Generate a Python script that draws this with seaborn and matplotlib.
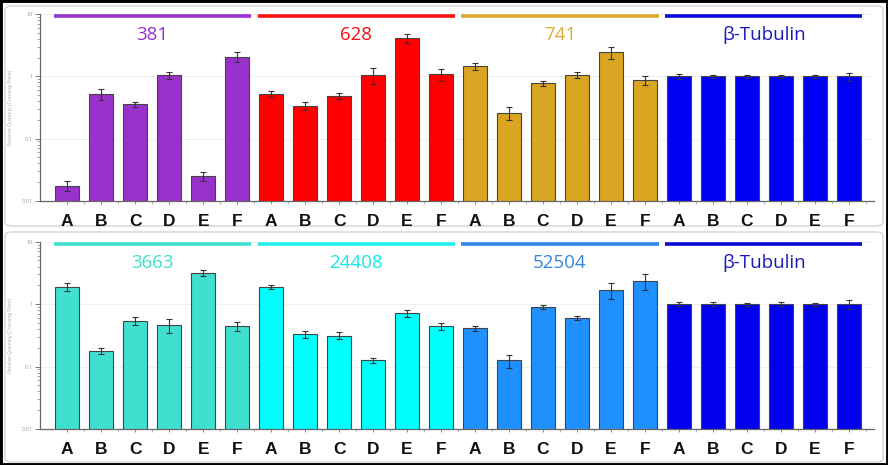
import numpy as np
import pandas as pd
import matplotlib
matplotlib.use("Agg")
import matplotlib.pyplot as plt
from matplotlib.patches import FancyBboxPatch, Rectangle
from matplotlib.ticker import LogLocator, FixedLocator, NullFormatter
import seaborn as sns

sns.set_style("white")
plt.rcParams['font.family'] = ['Open Sans', 'DejaVu Sans']

samples = ["A", "B", "C", "D", "E", "F"]

top_genes = ["381", "628", "741", "β-Tubulin"]
top_values = [
    [0.0175, 0.52, 0.355, 1.04, 0.025, 2.08],
    [0.53, 0.34, 0.49, 1.05, 4.2, 1.08],
    [1.47, 0.26, 0.77, 1.06, 2.43, 0.88],
    [1.0, 1.0, 1.0, 1.0, 1.0, 1.0],
]
top_errors = [
    [0.003, 0.10, 0.03, 0.12, 0.004, 0.35],
    [0.06, 0.05, 0.05, 0.30, 0.70, 0.25],
    [0.20, 0.06, 0.08, 0.12, 0.50, 0.15],
    [0.08, 0.07, 0.06, 0.07, 0.07, 0.15],
]
top_bar_colors = ["#9932CC", "#FF0000", "#DAA520", "#0000F5"]
top_line_colors = ["#9932CC", "#FF1010", "#DDAA33", "#0A0AE0"]
top_text_colors = ["#9932CC", "#EE1111", "#DDAA33", "#1A1ABB"]

bottom_genes = ["3663", "24408", "52504", "β-Tubulin"]
bottom_values = [
    [1.9, 0.178, 0.54, 0.466, 3.18, 0.44],
    [1.9, 0.33, 0.314, 0.126, 0.71, 0.44],
    [0.41, 0.126, 0.905, 0.60, 1.70, 2.37],
    [1.0, 1.0, 1.0, 1.0, 1.0, 1.0],
]
bottom_errors = [
    [0.25, 0.02, 0.08, 0.12, 0.40, 0.07],
    [0.15, 0.04, 0.04, 0.012, 0.09, 0.06],
    [0.04, 0.03, 0.06, 0.05, 0.50, 0.70],
    [0.08, 0.07, 0.06, 0.07, 0.06, 0.15],
]
bottom_bar_colors = ["#40E0D0", "#00FFFF", "#1E90FF", "#0000EE"]
bottom_line_colors = ["#40E0D0", "#22EEEE", "#2E88E8", "#0A0AD0"]
bottom_text_colors = ["#40E0D0", "#11E8E8", "#3388DD", "#1A1ABB"]

fig = plt.figure(figsize=(8.88, 4.65), dpi=100)
fig.patch.set_facecolor("white")

# panel frames
for (y0, y1) in [(6, 226), (232, 462)]:
    fig.patches.append(FancyBboxPatch((5 / 888, 1 - y1 / 465), 878 / 888, (y1 - y0) / 465,
                                      boxstyle="round,pad=0,rounding_size=0.008",
                                      transform=fig.transFigure, facecolor="white",
                                      edgecolor="#d4d4d4", linewidth=1.0, zorder=-5))
fig.patches.append(Rectangle((0, 0), 1, 1, transform=fig.transFigure, fill=False,
                             edgecolor="black", linewidth=3.5, zorder=10))


def draw_panel(ax, genes, values, errors, bar_colors, line_colors, text_colors):
    rows = []
    palette = []
    for g, gene in enumerate(genes):
        for s, smp in enumerate(samples):
            rows.append({"key": f"{gene}-{smp}", "value": values[g][s],
                         "err": errors[g][s], "label": smp})
            palette.append(bar_colors[g])
    df = pd.DataFrame(rows)
    ax.set_yscale("log")
    sns.barplot(data=df, x="key", y="value", hue="key", palette=palette,
                legend=False, ax=ax, width=0.7, edgecolor="#444444",
                linewidth=0.8, errorbar=None, saturation=1, zorder=2)
    x = np.arange(len(df))
    ax.errorbar(x, df["value"], yerr=df["err"], fmt="none", ecolor="#333333",
                elinewidth=0.8, capsize=2.5, capthick=0.8, zorder=3)
    ax.set_ylim(0.01, 10)
    ax.set_xlim(-0.8, len(df) - 0.26)
    ax.set_xticks(x)
    ax.set_xticklabels(df["label"], fontsize=12.5, fontweight="bold",
                       family=["Liberation Sans", "DejaVu Sans"], color="#111111")
    ax.xaxis.set_minor_locator(FixedLocator(x + 0.5))
    ax.tick_params(axis="x", which="major", length=2.5, width=0.6, pad=7,
                   color="#777777", bottom=True)
    ax.tick_params(axis="x", which="minor", length=2, width=0.5, color="#999999", bottom=True)
    ax.yaxis.set_major_locator(LogLocator(base=10, numticks=10))
    ax.yaxis.set_minor_locator(LogLocator(base=10, subs=np.arange(2, 10), numticks=20))
    ax.yaxis.set_minor_formatter(NullFormatter())
    ax.set_yticks([0.01, 0.1, 1, 10])
    ax.set_yticklabels(["0.01", "0.1", "1", "10"], fontsize=4, color="#999999")
    ax.tick_params(axis="y", which="major", length=3.5, width=0.6, pad=2,
                   color="#666666", left=True)
    ax.tick_params(axis="y", which="minor", length=2, width=0.5, color="#888888", left=True)
    ax.set_xlabel("")
    ax.set_ylabel("Relative Quantity (Crossing Point)", fontsize=3.5, color="#aaaaaa",
                  labelpad=6)
    ax.grid(axis="y", which="major", color="#eeeeee", linewidth=0.6, zorder=0)
    ax.set_axisbelow(True)
    for side in ["top", "right"]:
        ax.spines[side].set_visible(False)
    for side in ["left", "bottom"]:
        ax.spines[side].set_color("#666666")
        ax.spines[side].set_linewidth(0.9)
    trans = ax.get_xaxis_transform()
    n = len(samples)
    for g, gene in enumerate(genes):
        ax.plot([g * n - 0.4, g * n + n - 0.6], [0.99, 0.99], transform=trans,
                color=line_colors[g], linewidth=2.6,
                solid_capstyle="butt", clip_on=False, zorder=4)
        ax.text(g * n + 2.5, 0.888, gene, transform=trans, ha="center", va="center",
                fontsize=13.5, color=text_colors[g], zorder=4)
    ax.patch.set_alpha(0)


ax_top = fig.add_axes([40 / 888, 1 - 200.7 / 465, 834 / 888, 186.4 / 465])
draw_panel(ax_top, top_genes, top_values, top_errors, top_bar_colors, top_line_colors,
           top_text_colors)
ax_bot = fig.add_axes([40 / 888, 1 - 429 / 465, 834 / 888, 187.3 / 465])
draw_panel(ax_bot, bottom_genes, bottom_values, bottom_errors, bottom_bar_colors,
           bottom_line_colors, bottom_text_colors)

fig.savefig("out.png", dpi=100)
